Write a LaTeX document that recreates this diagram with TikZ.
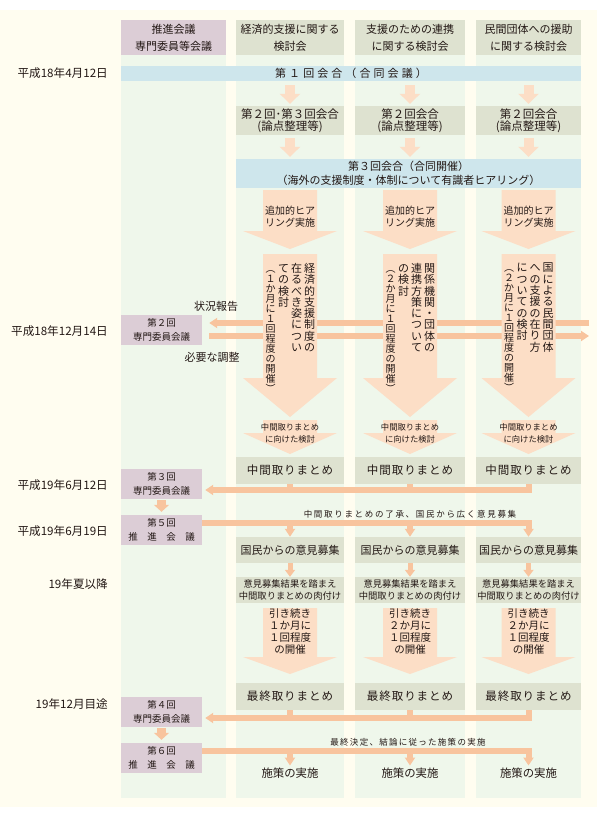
\documentclass[tikz,border=0pt]{standalone}
\usepackage{fontspec}
\setmainfont{Noto Sans CJK JP}
\usetikzlibrary{arrows.meta,calc}

\definecolor{cream}{RGB}{255,253,240}
\definecolor{colgreen}{RGB}{239,247,235}
\definecolor{hdgreen}{RGB}{222,226,208}
\definecolor{rosebox}{RGB}{220,205,214}
\definecolor{bandblue}{RGB}{206,230,236}
\definecolor{paleorange}{RGB}{252,222,198}
\definecolor{barorange}{RGB}{248,196,158}
\definecolor{ink}{RGB}{35,24,21}

\newcommand\fsz[2]{\fontsize{#1pt}{#2pt}\selectfont}
\newcommand\lsp[1]{\addfontfeature{LetterSpace=#1}}
% wide down arrow: centre x, shaft top, head start, tip
\newcommand\bigarr[4]{%
  \fill[paleorange] (#1-27,#2) -- (#1+27,#2) -- (#1+27,#3) -- (#1+47,#3)
    -- (#1,#4) -- (#1-47,#3) -- (#1-27,#3) -- cycle;}

% one column of vertical text: [pitch][font size]{characters}
\ExplSyntaxOn
\NewDocumentCommand \tatecol { O{11.3pt} O{11pt} m }
  {
    \vtop
      {
        \fontsize {#2} {#1} \selectfont
        \lineskiplimit = -\maxdimen
        \tl_map_inline:nn {#3} { \hbox_to_wd:nn { 13pt } { \hss ##1 \hss } }
      }
  }
\ExplSyntaxOff

\tikzset{
  headbox/.style={rectangle,fill=hdgreen,inner sep=0pt,text width=#1,
                  minimum height=35pt,align=center,font=\fsz{11}{17}},
  headbox/.default=108pt,
  rosehead/.style={headbox=#1,fill=rosebox},
  rosehead/.default=105pt,
  band/.style={rectangle,fill=bandblue,inner sep=0pt,text width=#1,
               align=center,font=\fsz{11}{14}},
  gbox/.style={rectangle,fill=hdgreen,inner sep=0pt,text width=#1,
               align=center,minimum height=27pt,font=\fsz{11.5}{12}},
  gbox/.default=108pt,
  kaigi/.style={rectangle,fill=rosebox,inner sep=0pt,minimum width=81pt,
                minimum height=30pt,align=center,font=\fsz{9.5}{14}},
  datelbl/.style={anchor=east,inner sep=0pt,font=\fsz{11.6}{14}},
  arrtext/.style={inner sep=0pt,align=center,font=\fsz{#1}{12}},
  tate/.style={inner sep=0pt,anchor=north},
  fatarr/.style={-{Triangle[width=20pt,length=10pt]},line width=10pt,draw=paleorange},
  smallfat/.style={-{Triangle[width=15pt,length=7pt]},line width=9pt,draw=barorange},
  thinarr/.style={-{Triangle[width=10pt,length=7pt]},line width=5pt,draw=barorange},
  bar/.style={line width=6pt,draw=barorange},
  bartip/.style={-{Triangle[width=10pt,length=8pt]}},
}

\begin{document}
\begin{tikzpicture}[x=1pt,y=-1pt,text=ink]
  \useasboundingbox (0,0) rectangle (597,817);
  \fill[cream] (0,10) rectangle (597,807);
  \foreach \xa/\xb in {121/226,236/344,355/465,476/581}
    \fill[colgreen] (\xa,55) rectangle (\xb,798);
  \def\cols{290/108/1,410/110/2,528.5/105/3}

  % column heads
  \node[rosehead] (h0) at (173.5,37.5) {推進会議\\専門委員等会議};
  \node[headbox] (h1) at (290,37.5) {経済的支援に関する\\検討会};
  \node[headbox=110pt] (h2) at (410,37.5) {支援のための連携\\に関する検討会};
  \node[headbox=105pt] (h3) at (528.5,37.5) {民間団体への援助\\に関する検討会};

  % dates
  \node[datelbl] (d1) at (108,73.5) {平成18年4月12日};
  \node[datelbl] (d2) at (108,331) {平成18年12月14日};
  \node[datelbl] (d3) at (108,485) {平成19年6月12日};
  \node[datelbl] (d4) at (108,531) {平成19年6月19日};
  \node[datelbl] (d5) at (108,584) {19年夏以降};
  \node[datelbl] (d6) at (108,704) {19年12月目途};

  % joint meetings
  \node[band=460pt,minimum height=15pt,font=\fsz{11}{14}\lsp{28}] (g1) at (351,73.5)
    {第１回会合（合同会議）};
  \foreach \cx/\w/\n in \cols
    \node[gbox=\w pt,minimum height=29pt] (r\n) at (\cx,120.5)
      {\ifnum\n=1 第２回･第３回会合\else 第２回会合\fi\\(論点整理等)};
  \node[band=345pt,minimum height=29pt] (g3) at (408.5,173.5)
    {第３回会合（合同開催）\\（海外の支援制度・体制について有識者ヒアリング）};
  \foreach \n in {r1,r2,r3}{
    \draw[fatarr,shorten <=4pt,shorten >=2pt] (g1.south -| \n.north) -- (\n.north);
    \draw[fatarr,shorten <=3pt,shorten >=2pt] (\n.south) -- (\n.south |- g3.north);
  }

  % report and adjustment
  \node[kaigi] (kai2) at (161.5,329.5) {第２回\\専門委員会議};
  \coordinate (e1) at (589,323);
  \coordinate (e2) at (589,336);
  \draw[bar,bartip,shorten >=7pt] (e1) -- (kai2.east |- e1);
  \draw[bar,bartip,shorten <=7pt] (kai2.east |- e2) -- (e2);
  \node[font=\fsz{11}{12}] (rep) at (216,306) {状況報告};
  \node[font=\fsz{11}{12}] (adj) at (212,357) {必要な調整};

  % wide arrows
  \foreach \cx in {290,410,528.5}{
    \bigarr{\cx}{190}{231}{249}
    \bigarr{\cx}{254}{378}{417}
    \bigarr{\cx}{420}{433}{454}
    \bigarr{\cx}{608}{657}{674}
  }
  \foreach \cx/\w/\n in \cols{
    \node[arrtext=10] (add\n) at (\cx,216.5) {追加的ヒア\\リング実施};
    \node[arrtext=8.3] (tow\n) at (\cx,433) {中間取りまとめ\\に向けた検討};
  }
  \node[tate] (vt1) at (290,263) {\tatecol[10pt][10pt]{︵１か月に１回程度の開催︶}\tatecol{ての検討}\tatecol{在るべき姿につい}\tatecol{経済的支援制度の}};
  \node[tate] (vt2) at (410,263) {\tatecol[10pt][10pt]{︵２か月に１回程度の開催︶}\tatecol{の検討}\tatecol{連携方策について}\tatecol{関係機関・団体の}};
  \node[tate] (vt3) at (528.5,263) {\tatecol[10pt][10pt]{︵２か月に１回程度の開催︶}\tatecol{についての検討}\tatecol{への支援の在り方}\tatecol{国による民間団体}};

  % interim summary
  \foreach \cx/\w/\n in \cols
    \node[gbox=\w pt,font=\fsz{11.5}{12}\lsp{8}] (m\n) at (\cx,470.5) {中間取りまとめ};
  \node[kaigi] (kai3) at (161.5,484) {第３回\\専門委員会議};
  \coordinate (bar3) at ($(kai3.east)+(0,6)$);
  \draw[bar,bartip,shorten >=3pt] (m3.south) |- (bar3);
  \draw[bar] (m1.south) -- (m1.south |- bar3);
  \draw[bar] (m2.south) -- (m2.south |- bar3);

  \node[kaigi] (kai5) at (161.5,530) {第５回\\推　進　会　議};
  \draw[smallfat,shorten <=1pt,shorten >=3pt] (kai3.south) -- (kai5.north);
  \coordinate (bar5) at ($(kai5.east)+(0,-7)$);
  \foreach \cx/\w/\n in \cols{
    \node[gbox=\w pt,minimum height=26pt,font=\fsz{11}{12}] (k\n) at (\cx,550) {国民からの意見募集};
    \node[gbox=\w pt,minimum height=26pt,font=\fsz{9.3}{12}] (p\n) at (\cx,590)
      {意見募集結果を踏まえ\\中間取りまとめの肉付け};
    \draw[thinarr] (k\n.south) -- (p\n.north);
    \node[arrtext=10.5] (cont\n) at (\cx,632)
      {引き続き\\\ifnum\n=1 １\else ２\fi か月に\\１回程度\\の開催};
  }
  \draw[bar,bartip] (bar5) -| (k3.north);
  \draw[bar,bartip] (bar5 -| k1.north) -- (k1.north);
  \draw[bar,bartip] (bar5 -| k2.north) -- (k2.north);
  \node[font=\fsz{8.5}{10}\lsp{20}] (ask) at (410,514) {中間取りまとめの了承、国民から広く意見募集};

  % final summary
  \foreach \cx/\w/\n in \cols
    \node[gbox=\w pt,font=\fsz{11.5}{12}\lsp{8}] (f\n) at (\cx,696.5) {最終取りまとめ};
  \node[kaigi] (kai4) at (161.5,712) {第４回\\専門委員会議};
  \coordinate (bar4) at ($(kai4.east)+(0,6)$);
  \draw[bar,bartip,shorten >=3pt] (f3.south) |- (bar4);
  \draw[bar] (f1.south) -- (f1.south |- bar4);
  \draw[bar] (f2.south) -- (f2.south |- bar4);

  \node[kaigi] (kai6) at (161.5,758) {第６回\\推　進　会　議};
  \draw[smallfat,shorten <=1pt,shorten >=3pt] (kai4.south) -- (kai6.north);
  \coordinate (bar6) at ($(kai6.east)+(0,-7)$);
  \foreach \cx/\w/\n in \cols
    \node[inner sep=0pt,font=\fsz{11.4}{12}] (s\n) at (\cx,773) {施策の実施};
  \draw[bar,bartip,shorten >=2pt] (bar6) -| (s3.north);
  \draw[bar,bartip,shorten >=2pt] (bar6 -| s1.north) -- (s1.north);
  \draw[bar,bartip,shorten >=2pt] (bar6 -| s2.north) -- (s2.north);
  \node[font=\fsz{8.5}{10}\lsp{15}] (fin) at (408,742) {最終決定、結論に従った施策の実施};
\end{tikzpicture}
\end{document}
